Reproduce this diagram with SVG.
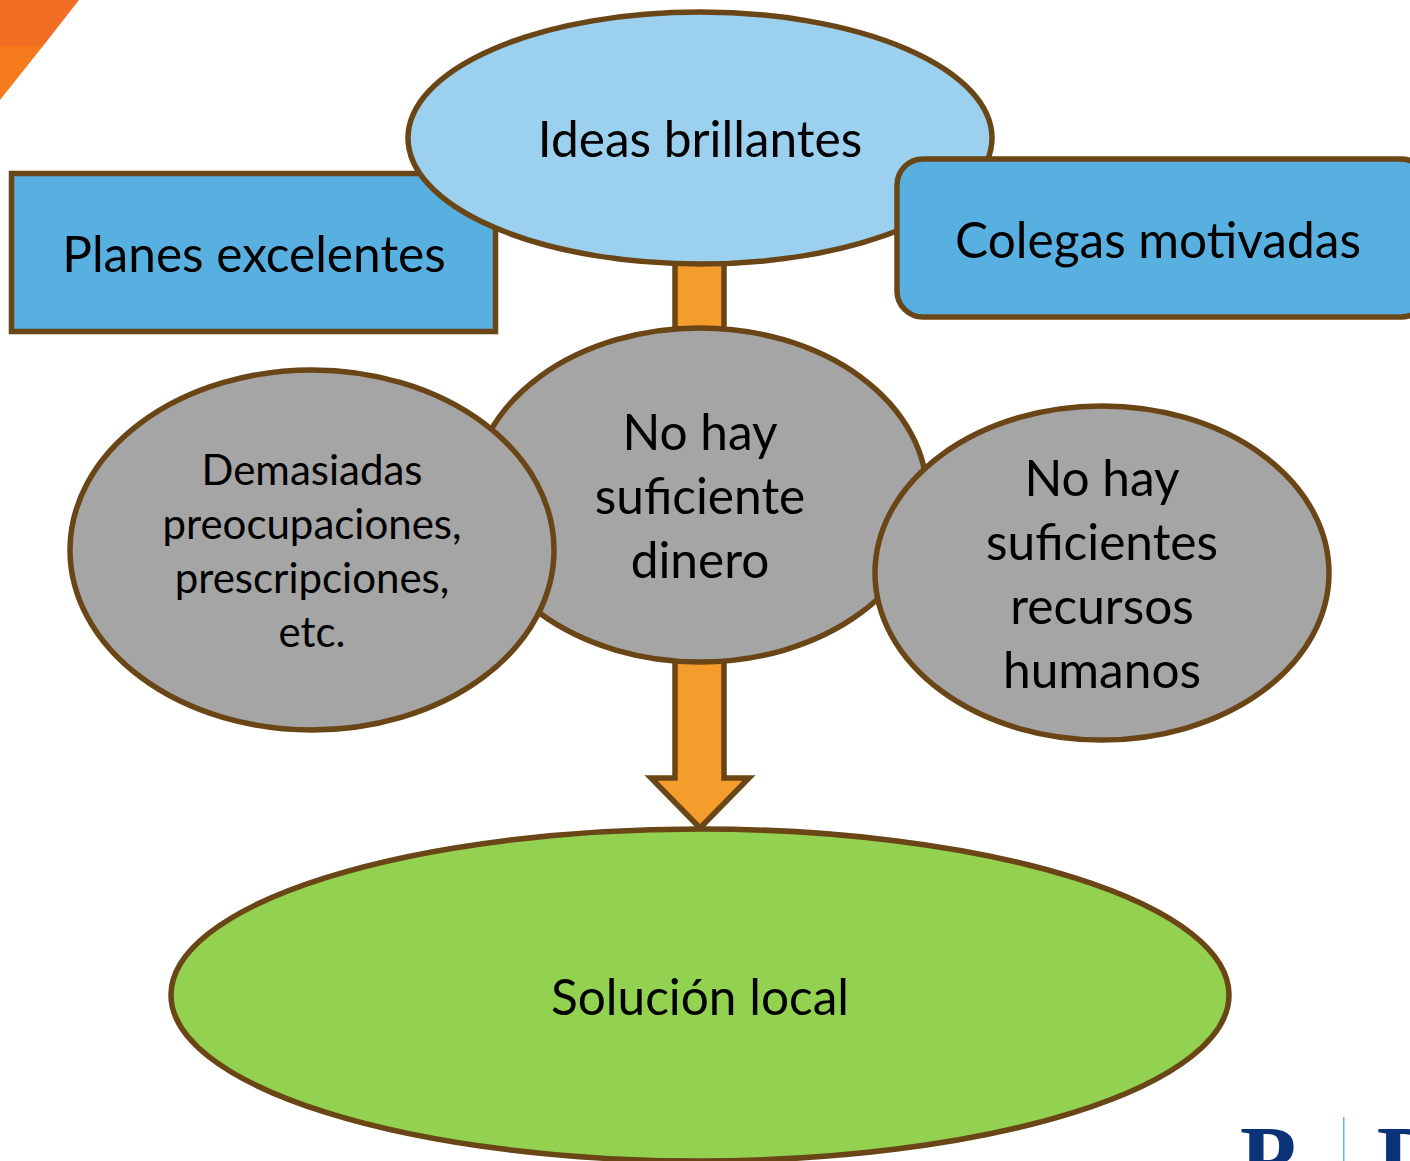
<svg xmlns="http://www.w3.org/2000/svg" width="1410" height="1161" viewBox="0 0 1410 1161">
<style>
.s{stroke:#6a4516;stroke-width:5.5;stroke-linejoin:miter}
.t{font-family:"Lato","Noto Sans",sans-serif;fill:#000;text-anchor:middle}
.b{font-size:49.6px}
.m{font-size:42px}
.l{font-family:"Liberation Serif",serif;font-size:92px;font-weight:bold;fill:#0b3478;text-anchor:middle}
</style>
<rect width="1410" height="1161" fill="#fff"/>
<g id="decor">
<polygon points="0,0 79,0 43,46 0,46" fill="#f36e24"/>
<polygon points="0,46 43,46 0,100" fill="#f57b1c"/>
<text class="l" x="1268" y="1189">P</text>
<rect x="1343" y="1117" width="1.5" height="44" fill="#6fb0f0"/>
<text class="l" x="1410" y="1189">D</text>
</g>
<g id="connectors">
<rect class="s" x="675" y="250" width="49" height="90" fill="#f59d2c"/>
<polygon class="s" points="675,650 724,650 724,778 749,778 700,828 651,778 675,778" fill="#f59d2c"/>
</g>
<g id="planes"><rect class="s" x="11.5" y="173.5" width="484" height="158" fill="#58b0e0"/><text class="t b" x="254" y="272">Planes excelentes</text></g>
<g id="ideas"><ellipse class="s" cx="700" cy="138" rx="292" ry="126" fill="#9bd0ee"/><text class="t b" x="700" y="157">Ideas brillantes</text></g>
<g id="colegas"><rect class="s" x="897" y="159" width="530" height="158" rx="26" fill="#58b0e0"/><text class="t b" x="1158" y="258">Colegas motivadas</text></g>
<g id="dinero"><ellipse class="s" cx="700" cy="495" rx="227" ry="167" fill="#a5a5a5"/><text class="t b"><tspan x="700" y="450">No hay</tspan><tspan x="700" y="514">suficiente</tspan><tspan x="700" y="578">dinero</tspan></text></g>
<g id="demasiadas"><ellipse class="s" cx="312" cy="550" rx="242" ry="180" fill="#a5a5a5"/><text class="t m"><tspan x="312" y="485">Demasiadas</tspan><tspan x="312" y="539">preocupaciones,</tspan><tspan x="312" y="593">prescripciones,</tspan><tspan x="312" y="647">etc.</tspan></text></g>
<g id="recursos"><ellipse class="s" cx="1102" cy="573" rx="227" ry="167" fill="#a5a5a5"/><text class="t b"><tspan x="1102" y="496">No hay</tspan><tspan x="1102" y="560">suficientes</tspan><tspan x="1102" y="624">recursos</tspan><tspan x="1102" y="688">humanos</tspan></text></g>
<g id="solucion"><ellipse class="s" cx="700" cy="995" rx="529" ry="166" fill="#92d250"/><text class="t b" x="700" y="1015">Solución local</text></g>
</svg>
